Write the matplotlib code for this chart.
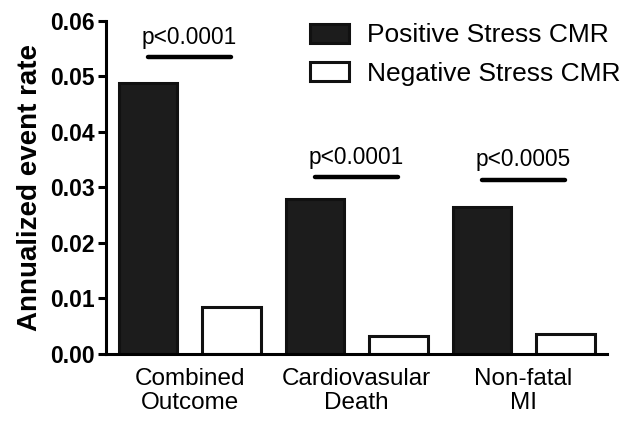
import numpy as np
import matplotlib
matplotlib.use("Agg")
import matplotlib.pyplot as plt

plt.rcParams['font.family'] = ['Liberation Sans', 'DejaVu Sans']

categories = ["Combined\nOutcome", "Cardiovasular\nDeath", "Non-fatal\nMI"]
positive = [0.0488, 0.0279, 0.0265]
negative = [0.0085, 0.0033, 0.0036]
p_labels = ["p<0.0001", "p<0.0001", "p<0.0005"]
p_heights = [0.0535, 0.0319, 0.0314]

fig = plt.figure(figsize=(6.35, 4.25), dpi=100)
ax = fig.add_axes([0.167, 0.167, 0.789, 0.784])

x = np.arange(len(categories))
w = 0.35
ax.bar(x - 0.25, positive, w, color='#1c1c1c', edgecolor='#111111', lw=2.2,
       label="Positive Stress CMR")
ax.bar(x + 0.25, negative, w, color='white', edgecolor='#111111', lw=2.2,
       label="Negative Stress CMR")

# significance bars
for xi, lab, h in zip(x, p_labels, p_heights):
    ax.plot([xi - 0.25, xi + 0.25], [h, h], color='black', lw=3.2,
            solid_capstyle='round')
    ax.text(xi, h + 0.0015, lab, ha='center', va='bottom', fontsize=16.3)

ax.set_xlim(-0.5, 2.5)
ax.set_ylim(0, 0.06)
ax.set_yticks([0, 0.01, 0.02, 0.03, 0.04, 0.05, 0.06])
ax.set_yticklabels(["0.00", "0.01", "0.02", "0.03", "0.04", "0.05", "0.06"],
                   fontsize=16.5, fontweight='bold')
ax.set_xticks(x)
ax.set_xticklabels(categories, fontsize=17.5, linespacing=1.15)
ax.tick_params(axis='x', length=0, pad=10)
ax.tick_params(axis='y', length=6, width=2.2, pad=2)
ax.set_ylabel("Annualized event rate", fontsize=20, fontweight='bold', labelpad=5)

for s in ['top', 'right']:
    ax.spines[s].set_visible(False)
for s in ['left', 'bottom']:
    ax.spines[s].set_linewidth(2.2)

ax.legend(loc='upper left', bbox_to_anchor=(0.488, 0.945), bbox_transform=fig.transFigure,
          frameon=False, fontsize=19, handlelength=1.47, handleheight=0.75,
          handletextpad=0.7, labelspacing=0.55, borderaxespad=0, borderpad=0)

fig.savefig("out.png", dpi=100)
